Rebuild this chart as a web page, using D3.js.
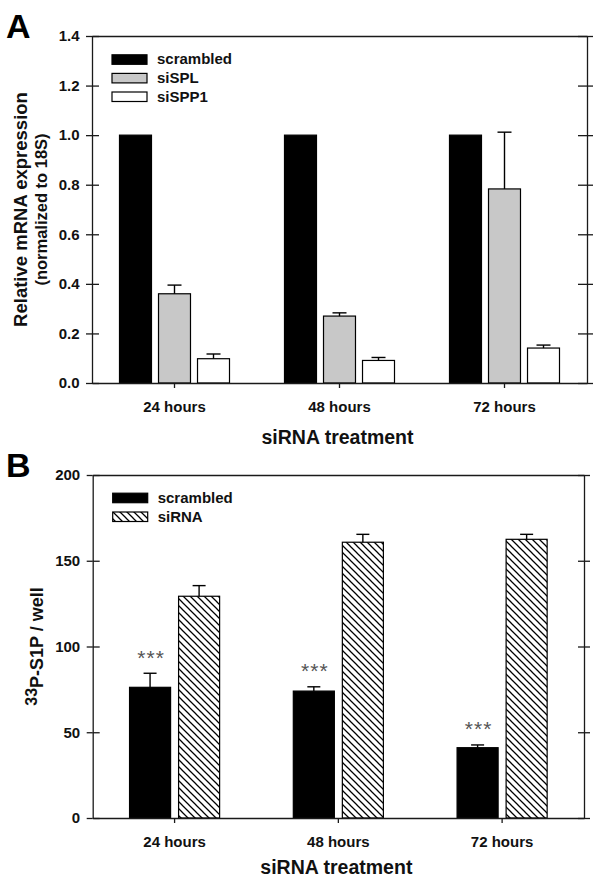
<!DOCTYPE html>
<html>
<head>
<meta charset="utf-8">
<script src="https://cdn.jsdelivr.net/npm/d3@7/dist/d3.min.js"></script>
<style>
  html, body { margin: 0; padding: 0; background: #fff; }
  svg { display: block; font-family: "Liberation Sans", Arial, Helvetica, sans-serif; }
</style>
</head>
<body>
<svg id="chart" width="601" height="884"></svg>
<script>
// ---------- data ----------
const categories = ["24 hours", "48 hours", "72 hours"];

// Panel A
const seriesA = ["scrambled", "siSPL", "siSPP1"];
const scrambledA = [1.0, 1.0, 1.0];
const scrambledAErr = [0, 0, 0];
const siSPL = [0.360, 0.270, 0.783];
const siSPLErr = [0.035, 0.013, 0.229];
const siSPP1 = [0.098, 0.091, 0.141];
const siSPP1Err = [0.019, 0.012, 0.012];
const ticksA = [0.0, 0.2, 0.4, 0.6, 0.8, 1.0, 1.2, 1.4];
const yTitleA1 = "Relative mRNA expression";
const yTitleA2 = "(normalized to 18S)";

// Panel B
const seriesB = ["scrambled", "siRNA"];
const scrambledB = [76.2, 74.0, 41.0];
const scrambledBErr = [8.2, 2.5, 1.6];
const siRNA = [129.3, 160.8, 162.5];
const siRNAErr = [6.2, 4.6, 2.9];
const ticksB = [0, 50, 100, 150, 200];
const signifB = ["***", "***", "***"];

const xTitle = "siRNA treatment";

// ---------- drawing ----------
const svg = d3.select("#chart");
const defs = svg.append("defs");
const hatch = defs.append("pattern")
  .attr("id", "hatch").attr("patternUnits", "userSpaceOnUse")
  .attr("width", 7).attr("height", 7);
hatch.append("rect").attr("width", 7).attr("height", 7).attr("fill", "#fff");
hatch.append("path")
  .attr("d", "M0,0 L7,7 M-1,6 L1,8 M6,-1 L8,1")
  .attr("stroke", "#000").attr("stroke-width", 1.25);

const AX = "#1a1a1a";
const TXT = "#111";

function drawPanel(cfg) {
  const g = svg.append("g");
  const x0 = d3.scaleBand().domain(categories)
    .range([cfg.left, cfg.right])
    .paddingInner(cfg.padInner).paddingOuter(cfg.padInner / 2);
  const x1 = d3.scaleBand().domain(cfg.series.map(s => s.name))
    .range([0, x0.bandwidth()]).paddingInner(cfg.barPad).paddingOuter(0);
  const y = d3.scaleLinear().domain(cfg.domain).range([cfg.bottom, cfg.top]);

  // axes: left (outer ticks + inner ticks)
  const styleAxis = sel => {
    sel.selectAll("path, line").attr("stroke", AX).attr("stroke-width", 1.3);
    sel.selectAll("text").attr("fill", TXT).attr("font-size", 15)
      .attr("font-weight", "bold").attr("font-family", "Liberation Sans, Arial, sans-serif");
  };
  g.append("g").attr("transform", `translate(${cfg.left},0)`)
    .call(d3.axisLeft(y).tickValues(cfg.ticks).tickFormat(cfg.fmt)
      .tickSize(6).tickSizeOuter(0).tickPadding(6.5))
    .call(styleAxis);
  g.append("g").attr("transform", `translate(${cfg.left},0)`)
    .call(d3.axisRight(y).tickValues(cfg.ticks).tickFormat("")
      .tickSize(7).tickSizeOuter(0))
    .call(styleAxis).select(".domain").remove();
  // right axis
  g.append("g").attr("transform", `translate(${cfg.right},0)`)
    .call(d3.axisRight(y).tickValues(cfg.ticks).tickFormat("")
      .tickSize(6).tickSizeOuter(0))
    .call(styleAxis);
  g.append("g").attr("transform", `translate(${cfg.right},0)`)
    .call(d3.axisLeft(y).tickValues(cfg.ticks).tickFormat("")
      .tickSize(cfg.rightIn).tickSizeOuter(0))
    .call(styleAxis).select(".domain").remove();
  // top frame line
  g.append("g").attr("transform", `translate(0,${cfg.top})`)
    .call(d3.axisTop(x0).tickSize(0).tickFormat("").tickSizeOuter(0))
    .call(styleAxis);

  // bars
  cfg.series.forEach(s => {
    const gs = g.append("g");
    gs.selectAll("rect").data(s.values).join("rect")
      .attr("x", (d, i) => x0(categories[i]) + x1(s.name))
      .attr("y", d => y(d))
      .attr("width", x1.bandwidth())
      .attr("height", d => y(cfg.domain[0]) - y(d))
      .attr("fill", s.fill).attr("stroke", "#000").attr("stroke-width", 1.2);
    // error bars (upper only)
    const cx = i => x0(categories[i]) + x1(s.name) + x1.bandwidth() / 2;
    s.errors.forEach((e, i) => {
      if (!e) return;
      const v = s.values[i];
      gs.append("line").attr("x1", cx(i)).attr("x2", cx(i))
        .attr("y1", y(v)).attr("y2", y(v + e))
        .attr("stroke", "#000").attr("stroke-width", 1.4);
      gs.append("line").attr("x1", cx(i) - cfg.cap / 2).attr("x2", cx(i) + cfg.cap / 2)
        .attr("y1", y(v + e)).attr("y2", y(v + e))
        .attr("stroke", "#000").attr("stroke-width", 1.4);
    });
    if (s.signif) {
      s.signif.forEach((t, i) => {
        const top = y(s.values[i] + s.errors[i]);
        gs.append("text").attr("x", cx(i) + 1).attr("y", top - 8.5)
          .attr("text-anchor", "middle").attr("font-size", 21)
          .attr("letter-spacing", 1).attr("fill", "#555").text(t);
      });
    }
  });

  // bottom axis (drawn after bars so baseline is on top)
  g.append("g").attr("transform", `translate(0,${cfg.bottom})`)
    .call(d3.axisBottom(x0).tickSize(5).tickSizeOuter(0).tickPadding(13))
    .call(styleAxis);
  // bottom axis extension for corner ticks already from left/right axes

  // x title
  g.append("text").attr("x", (cfg.left + cfg.right) / 2 - 2).attr("y", cfg.xTitleY)
    .attr("text-anchor", "middle").attr("font-size", 19.5).attr("font-weight", "bold")
    .attr("fill", TXT).text(xTitle);

  // legend
  cfg.series.forEach((s, i) => {
    const by = cfg.top + cfg.legTop + i * cfg.legStep;
    g.append("rect").attr("x", cfg.left + 20).attr("y", by - 9.5)
      .attr("width", 35).attr("height", 9.5)
      .attr("fill", s.fill).attr("stroke", "#000").attr("stroke-width", 1.2);
    g.append("text").attr("x", cfg.left + 65).attr("y", by)
      .attr("font-size", 15).attr("font-weight", "bold").attr("fill", TXT).text(s.name);
  });

  // panel label
  g.append("text").attr("x", 6).attr("y", cfg.top + 2)
    .attr("font-size", 34).attr("font-weight", "bold").attr("fill", "#000").text(cfg.label);
  return g;
}

const gA = drawPanel({
  label: "A", left: 92, right: 587, top: 36, bottom: 383,
  domain: [0, 1.4], ticks: ticksA, fmt: d3.format(".1f"),
  padInner: 1 / 3, barPad: 0.18, cap: 14, rightIn: 9,
  xTitleY: 444, legTop: 28.3, legStep: 18.6,
  series: [
    { name: seriesA[0], values: scrambledA, errors: scrambledAErr, fill: "#000" },
    { name: seriesA[1], values: siSPL, errors: siSPLErr, fill: "#c8c8c8" },
    { name: seriesA[2], values: siSPP1, errors: siSPP1Err, fill: "#fff" }
  ]
});
gA.append("text").attr("transform", "translate(27,209.5) rotate(-90)")
  .attr("text-anchor", "middle").attr("font-size", 18.5).attr("font-weight", "bold")
  .attr("fill", TXT).text(yTitleA1);
gA.append("text").attr("transform", "translate(47,209.5) rotate(-90)")
  .attr("text-anchor", "middle").attr("font-size", 16.5).attr("font-weight", "bold")
  .attr("fill", TXT).text(yTitleA2);

const gB = drawPanel({
  label: "B", left: 92.7, right: 584, top: 475, bottom: 818,
  domain: [0, 200], ticks: ticksB, fmt: d3.format("d"),
  padInner: 0.45, barPad: 0.163, cap: 13, rightIn: 6,
  xTitleY: 874, legTop: 27.7, legStep: 18.8,
  series: [
    { name: seriesB[0], values: scrambledB, errors: scrambledBErr, fill: "#000", signif: signifB },
    { name: seriesB[1], values: siRNA, errors: siRNAErr, fill: "url(#hatch)" }
  ]
});
const yl = gB.append("text").attr("transform", "translate(43.3,646.5) rotate(-90)")
  .attr("text-anchor", "middle").attr("font-weight", "bold").attr("fill", TXT);
yl.append("tspan").attr("font-size", 16).attr("dy", -6.6).text("33");
yl.append("tspan").attr("font-size", 18).attr("dy", 6.6).text("P-S1P / well");
</script>
</body>
</html>
